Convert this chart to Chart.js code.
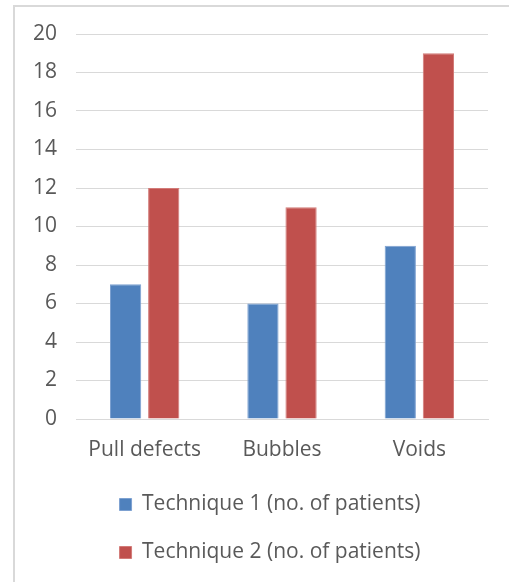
<!DOCTYPE html>
<html>
<head>
<meta charset="utf-8">
<script src="https://cdn.jsdelivr.net/npm/chart.js@4"></script>
<style>
  html, body { margin: 0; padding: 0; background: #fff; overflow: hidden; }
  #frame {
    position: absolute;
    left: 13px;
    top: 5px;
    width: 520px;
    height: 600px;
    border: 2px solid #d9d9d9;
    background: #fff;
  }
  #wrap { position: absolute; left: 0; top: 0; width: 494px; height: 566px; }
</style>
</head>
<body>
<div id="frame">
  <div id="wrap"><canvas id="chart"></canvas></div>
</div>
<script>
const categories = ['Pull defects', 'Bubbles', 'Voids']
const technique1 = [7, 6, 9]
const technique2 = [12, 11, 19]
const seriesNames = ['Technique 1 (no. of patients)', 'Technique 2 (no. of patients)']

const textColor = '#595959'
const fontFamily = '"Open Sans", Lato, sans-serif'

Chart.defaults.font.family = fontFamily
Chart.defaults.color = textColor

// legend in the original sits a bit right of the canvas centre
const shiftLegend = {
  id: 'shiftLegend',
  afterLayout(chart) {
    chart.legend.left += 37
  },
}

const ctx = document.getElementById('chart')

new Chart(ctx, {
  type: 'bar',
  data: {
    labels: categories,
    datasets: [
      {
        label: seriesNames[0],
        data: technique1,
        backgroundColor: '#4f81bd',
        borderColor: '#7da1d1',
        borderWidth: 1,
      },
      {
        label: seriesNames[1],
        data: technique2,
        backgroundColor: '#c0504d',
        borderColor: '#d27b78',
        borderWidth: 1,
      },
    ],
  },
  options: {
    responsive: true,
    maintainAspectRatio: false,
    animation: false,
    categoryPercentage: 0.555,
    barPercentage: 0.82,
    layout: {
      padding: { left: 0, right: 21, top: 27, bottom: 0 },
    },
    scales: {
      x: {
        grid: { display: false, drawTicks: false },
        border: { color: '#d9d9d9' },
        ticks: { font: { size: 21 }, padding: 18, color: textColor },
        afterFit: axis => { axis.height = 48 },
      },
      y: {
        min: 0,
        max: 20,
        ticks: { stepSize: 2, font: { size: 21 }, padding: 19, color: textColor },
        grid: { color: '#d9d9d9', drawTicks: false },
        border: { display: false },
        afterFit: axis => {
          axis.width = 61
          axis.paddingTop = 0
          axis.paddingBottom = 0
        },
      },
    },
    plugins: {
      legend: {
        position: 'bottom',
        labels: {
          boxWidth: 12,
          boxHeight: 12,
          padding: 27,
          font: { size: 21 },
          color: textColor,
        },
      },
      tooltip: { enabled: false },
    },
  },
  plugins: [shiftLegend],
})
</script>
</body>
</html>
